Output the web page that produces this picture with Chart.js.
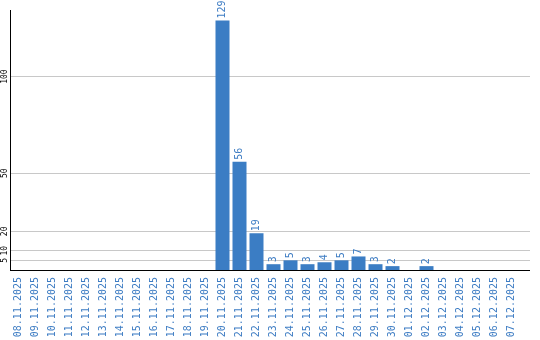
<!DOCTYPE html>
<html>
<head>
<meta charset="utf-8">
<script src="https://cdn.jsdelivr.net/npm/chart.js@4/dist/chart.umd.min.js"></script>
<style>
html,body{margin:0;padding:0;background:#fff;}
#wrap{width:540px;height:340px;position:relative;}
</style>
</head>
<body>
<div id="wrap"><canvas id="c" width="540" height="340"></canvas></div>
<script>
const categories = ["08.11.2025","09.11.2025","10.11.2025","11.11.2025","12.11.2025","13.11.2025","14.11.2025","15.11.2025","16.11.2025","17.11.2025","18.11.2025","19.11.2025","20.11.2025","21.11.2025","22.11.2025","23.11.2025","24.11.2025","25.11.2025","26.11.2025","27.11.2025","28.11.2025","29.11.2025","30.11.2025","01.12.2025","02.12.2025","03.12.2025","04.12.2025","05.12.2025","06.12.2025","07.12.2025"];
const values = [0,0,0,0,0,0,0,0,0,0,0,0,129,56,19,3,5,3,4,5,7,3,2,0,2,0,0,0,0,0];
const yTicks = [5,10,20,50,100];
const yMax = 134.4;

const BAR = '#3b7dc4';
const TXT = '#3d7cc3';
const GRID = '#c8c8c8';

const valueLabels = {
  id: 'valueLabels',
  afterDatasetsDraw(chart) {
    const ctx = chart.ctx;
    const meta = chart.getDatasetMeta(0);
    ctx.save();
    ctx.fillStyle = TXT;
    ctx.font = '10px "DejaVu Sans Mono", monospace';
    ctx.textAlign = 'left';
    ctx.textBaseline = 'middle';
    meta.data.forEach((bar, i) => {
      const v = values[i];
      if (!v) return;
      ctx.save();
      ctx.translate(bar.x, bar.y - 2);
      ctx.rotate(-Math.PI / 2);
      ctx.fillText(String(v), 0, 0);
      ctx.restore();
    });
    ctx.restore();
  }
};

const extendLines = {
  id: 'extendLines',
  afterDraw(chart) {
    const ctx = chart.ctx;
    const ca = chart.chartArea;
    const ys = chart.scales.y;
    const endX = 530;
    ctx.save();
    ctx.lineWidth = 1;
    ctx.strokeStyle = GRID;
    yTicks.forEach(v => {
      const p = Math.round(ys.getPixelForValue(v) - 0.5) + 0.5;
      ctx.beginPath();
      ctx.moveTo(ca.right, p);
      ctx.lineTo(endX, p);
      ctx.stroke();
    });
    ctx.strokeStyle = '#000';
    const b = Math.round(ca.bottom - 0.5) + 0.5;
    ctx.beginPath();
    ctx.moveTo(ca.right - 1, b);
    ctx.lineTo(endX, b);
    ctx.stroke();
    ctx.restore();
  }
};

new Chart(document.getElementById('c'), {
  type: 'bar',
  data: {
    labels: categories,
    datasets: [{
      data: values,
      backgroundColor: BAR,
      borderWidth: 0,
      barPercentage: 1,
      categoryPercentage: 14 / 17
    }]
  },
  options: {
    responsive: false,
    animation: false,
    devicePixelRatio: 1,
    layout: { padding: { top: 10, right: 20, bottom: 0, left: 0 } },
    plugins: { legend: { display: false }, tooltip: { enabled: false } },
    scales: {
      x: {
        grid: { display: false, drawTicks: false },
        border: { display: true, color: '#000', width: 1 },
        ticks: {
          color: TXT,
          font: { family: '"DejaVu Sans Mono", monospace', size: 10 },
          minRotation: 90,
          maxRotation: 90,
          autoSkip: false,
          padding: 7
        },
        afterFit(scale) { scale.height = 70; }
      },
      y: {
        min: 0,
        max: yMax,
        afterBuildTicks(scale) { scale.ticks = yTicks.map(v => ({ value: v })); },
        grid: { color: GRID, lineWidth: 1, drawTicks: false },
        border: { display: true, color: '#000', width: 1 },
        ticks: {
          color: '#000',
          font: { family: '"DejaVu Sans Mono", monospace', size: 8 },
          minRotation: 90,
          maxRotation: 90,
          crossAlign: 'center',
          padding: -2
        },
        afterFit(scale) { scale.width = 10; }
      }
    }
  },
  plugins: [valueLabels, extendLines]
});
</script>
</body>
</html>
